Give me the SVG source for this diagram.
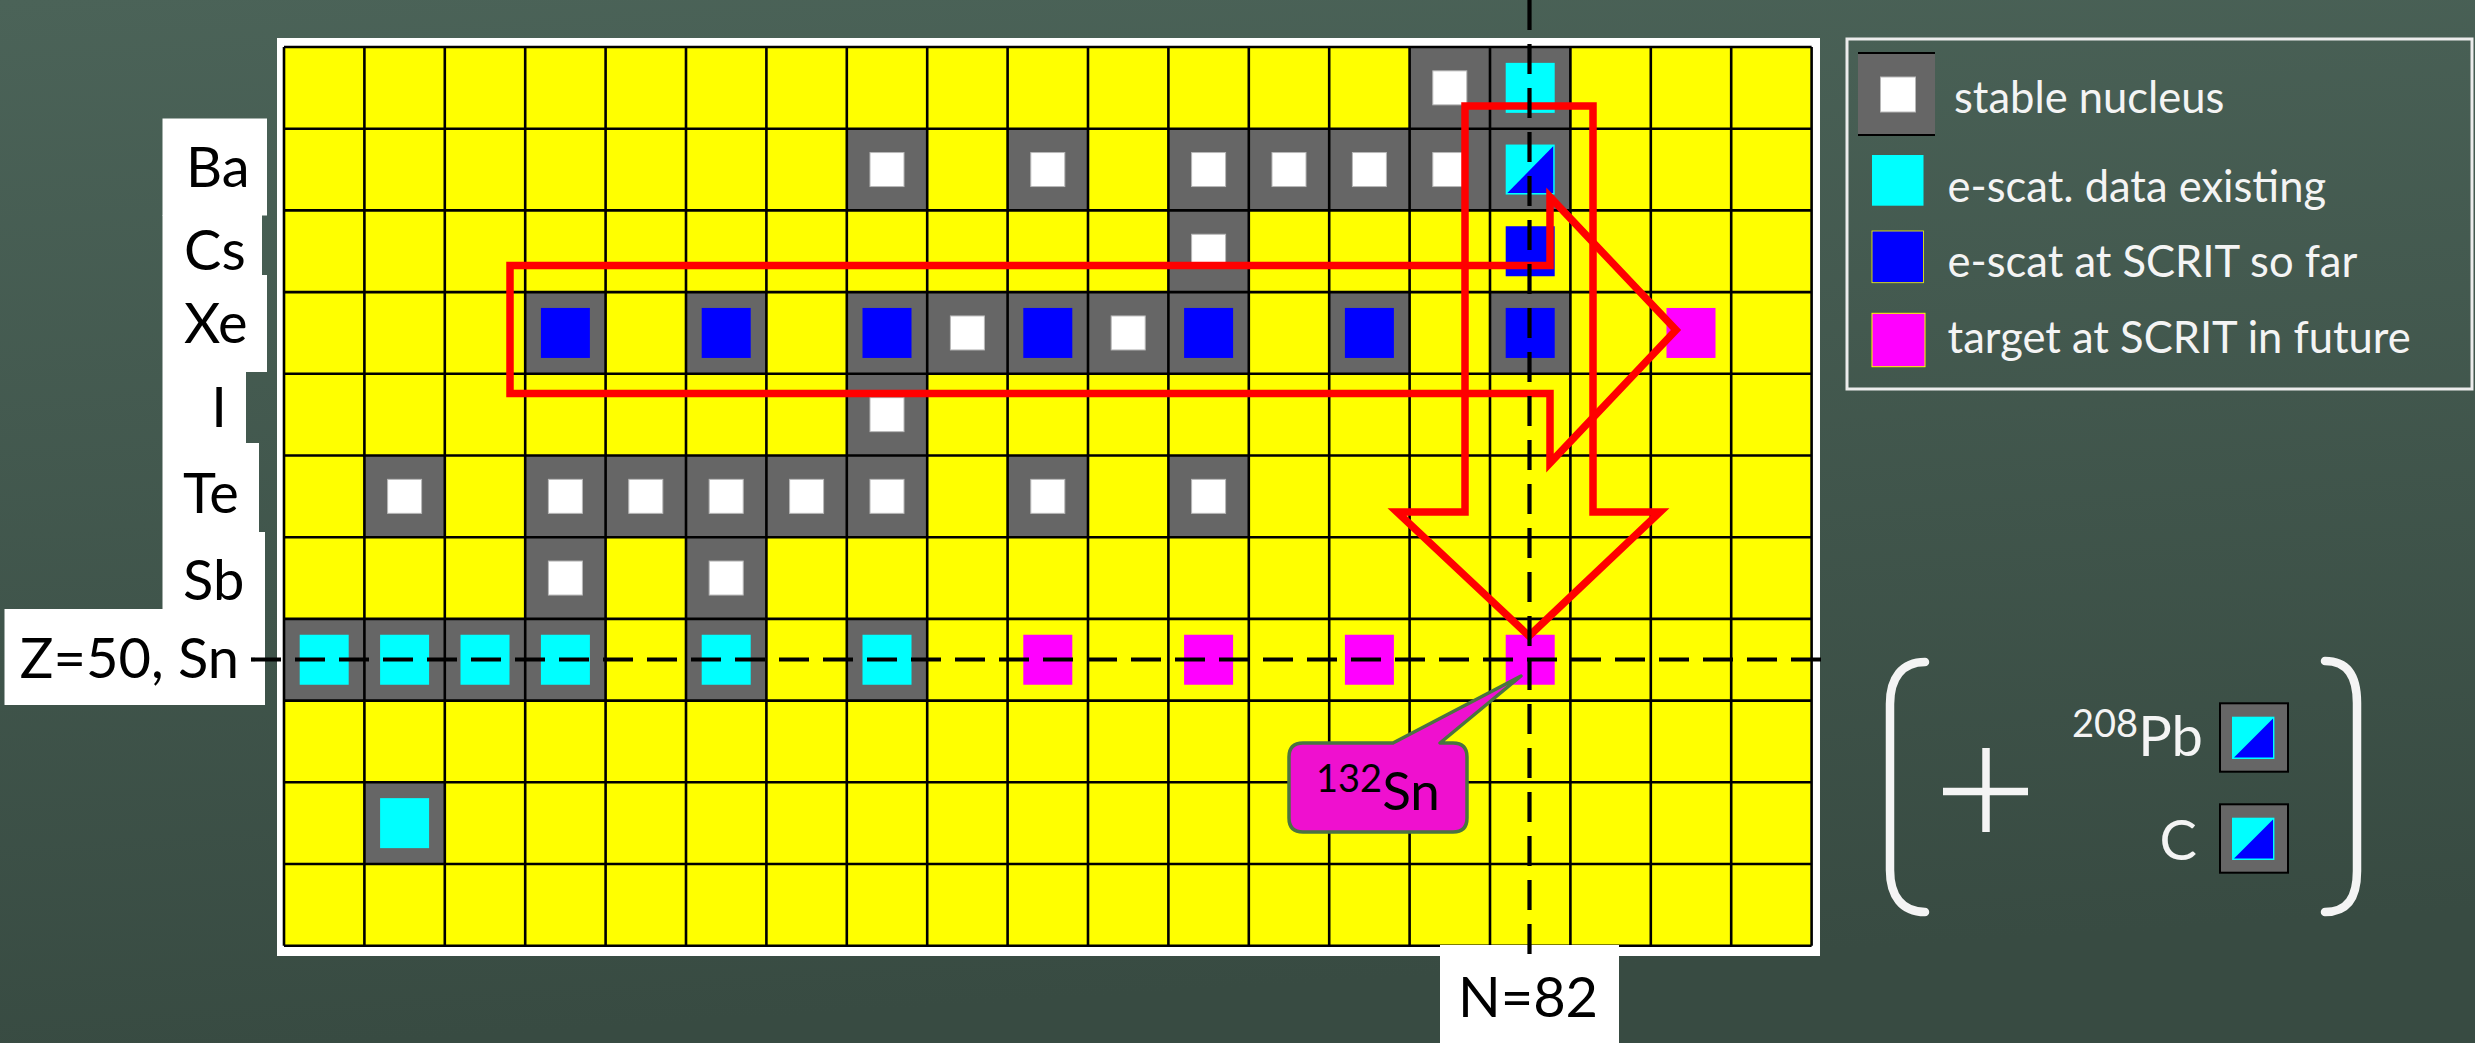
<svg xmlns="http://www.w3.org/2000/svg" xmlns:xlink="http://www.w3.org/1999/xlink" width="2475" height="1043" viewBox="0 0 2475 1043">
<defs>
<linearGradient id="bg" x1="0" y1="0" x2="0.15" y2="1">
<stop offset="0" stop-color="#4b6358"/>
<stop offset="1" stop-color="#384b42"/>
</linearGradient>
<style>
.gray{fill:#666666}
.wsq{fill:#ffffff;stroke:#b8b8b8;stroke-width:1}
.cy{fill:#00ffff}
.bl{fill:#0000ff}
.mg{fill:#ff00ff}
.grid{fill:none;stroke:#000;stroke-width:2.6}
.red{fill:none;stroke:#ff0000;stroke-width:7.5;stroke-linejoin:miter;stroke-miterlimit:10}
.dash{fill:none;stroke:#000;stroke-width:4.2;stroke-dasharray:30 14}
.lbl{font-family:Lato,"Liberation Sans",sans-serif;font-size:56px;fill:#000}
.leg{font-family:Lato,"Liberation Sans",sans-serif;font-size:43.5px;fill:#f4f4f4}
.wt{font-family:Lato,"Liberation Sans",sans-serif;fill:#f4f4f4}
.paren{fill:none;stroke:#f4f4f4;stroke-width:8.5;stroke-linecap:round}
</style>
<g id="stable"><rect class="gray" x="0" y="0" width="80.4" height="81.7"/><rect class="wsq" x="23.2" y="23.85" width="34" height="34"/></g>
<g id="cyanG"><rect class="gray" x="0" y="0" width="80.4" height="81.7"/><rect class="cy" x="15.7" y="15.85" width="49" height="50"/></g>
<g id="blueG"><rect class="gray" x="0" y="0" width="80.4" height="81.7"/><rect class="bl" x="15.7" y="15.85" width="49" height="50"/></g>
<g id="blue"><rect class="bl" x="15.7" y="15.85" width="49" height="50"/></g>
<g id="mag"><rect class="mg" x="15.7" y="15.85" width="49" height="50"/></g>
<g id="halfG"><rect class="gray" x="0" y="0" width="80.4" height="81.7"/><rect class="cy" x="15.7" y="15.85" width="49" height="50"/><polygon class="bl" points="63.2,17.5 63.2,64.3 17.3,64.3"/></g>
</defs>

<rect id="background" x="0" y="0" width="2475" height="1043" fill="url(#bg)"/>

<g id="chart">
<rect x="277" y="38" width="1543" height="918" fill="#ffffff"/>
<rect x="284" y="47" width="1527.6" height="898.7" fill="#ffff00"/>
<g id="cells">
<use id="cell-r0-c14" href="#stable" x="1409.6" y="47"/>
<use id="cell-r0-c15" href="#cyanG" x="1490" y="47"/>
<use id="cell-r1-c7" href="#stable" x="846.8" y="128.7"/>
<use id="cell-r1-c9" href="#stable" x="1007.6" y="128.7"/>
<use id="cell-r1-c11" href="#stable" x="1168.4" y="128.7"/>
<use id="cell-r1-c12" href="#stable" x="1248.8" y="128.7"/>
<use id="cell-r1-c13" href="#stable" x="1329.2" y="128.7"/>
<use id="cell-r1-c14" href="#stable" x="1409.6" y="128.7"/>
<use id="cell-r1-c15" href="#halfG" x="1490" y="128.7"/>
<use id="cell-r2-c11" href="#stable" x="1168.4" y="210.4"/>
<use id="cell-r2-c15" href="#blue" x="1490" y="210.4"/>
<use id="cell-r3-c3" href="#blueG" x="525.2" y="292.1"/>
<use id="cell-r3-c5" href="#blueG" x="686" y="292.1"/>
<use id="cell-r3-c7" href="#blueG" x="846.8" y="292.1"/>
<use id="cell-r3-c8" href="#stable" x="927.2" y="292.1"/>
<use id="cell-r3-c9" href="#blueG" x="1007.6" y="292.1"/>
<use id="cell-r3-c10" href="#stable" x="1088" y="292.1"/>
<use id="cell-r3-c11" href="#blueG" x="1168.4" y="292.1"/>
<use id="cell-r3-c13" href="#blueG" x="1329.2" y="292.1"/>
<use id="cell-r3-c15" href="#blueG" x="1490" y="292.1"/>
<use id="cell-r3-c17" href="#mag" x="1650.8" y="292.1"/>
<use id="cell-r4-c7" href="#stable" x="846.8" y="373.8"/>
<use id="cell-r5-c1" href="#stable" x="364.4" y="455.5"/>
<use id="cell-r5-c3" href="#stable" x="525.2" y="455.5"/>
<use id="cell-r5-c4" href="#stable" x="605.6" y="455.5"/>
<use id="cell-r5-c5" href="#stable" x="686" y="455.5"/>
<use id="cell-r5-c6" href="#stable" x="766.4" y="455.5"/>
<use id="cell-r5-c7" href="#stable" x="846.8" y="455.5"/>
<use id="cell-r5-c9" href="#stable" x="1007.6" y="455.5"/>
<use id="cell-r5-c11" href="#stable" x="1168.4" y="455.5"/>
<use id="cell-r6-c3" href="#stable" x="525.2" y="537.2"/>
<use id="cell-r6-c5" href="#stable" x="686" y="537.2"/>
<use id="cell-r7-c0" href="#cyanG" x="284" y="618.9"/>
<use id="cell-r7-c1" href="#cyanG" x="364.4" y="618.9"/>
<use id="cell-r7-c2" href="#cyanG" x="444.8" y="618.9"/>
<use id="cell-r7-c3" href="#cyanG" x="525.2" y="618.9"/>
<use id="cell-r7-c5" href="#cyanG" x="686" y="618.9"/>
<use id="cell-r7-c7" href="#cyanG" x="846.8" y="618.9"/>
<use id="cell-r7-c9" href="#mag" x="1007.6" y="618.9"/>
<use id="cell-r7-c11" href="#mag" x="1168.4" y="618.9"/>
<use id="cell-r7-c13" href="#mag" x="1329.2" y="618.9"/>
<use id="cell-r7-c15" href="#mag" x="1490" y="618.9"/>
<use id="cell-r9-c1" href="#cyanG" x="364.4" y="782.3"/>
</g>
<path id="gridlines" class="grid" d="M284 47V945.7M364.4 47V945.7M444.8 47V945.7M525.2 47V945.7M605.6 47V945.7M686 47V945.7M766.4 47V945.7M846.8 47V945.7M927.2 47V945.7M1007.6 47V945.7M1088 47V945.7M1168.4 47V945.7M1248.8 47V945.7M1329.2 47V945.7M1409.6 47V945.7M1490 47V945.7M1570.4 47V945.7M1650.8 47V945.7M1731.2 47V945.7M1811.6 47V945.7M284 47H1811.6M284 128.7H1811.6M284 210.4H1811.6M284 292.1H1811.6M284 373.8H1811.6M284 455.5H1811.6M284 537.2H1811.6M284 618.9H1811.6M284 700.6H1811.6M284 782.3H1811.6M284 864H1811.6M284 945.7H1811.6"/>
</g>

<g id="labels">
<g id="label-Ba"><rect x="162.5" y="118.5" width="104.5" height="97" fill="#fff"/><text class="lbl" x="186" y="187.3">Ba</text></g>
<g id="label-Cs"><rect x="162.5" y="215" width="99.5" height="60" fill="#fff"/><text class="lbl" x="184" y="270">Cs</text></g>
<g id="label-Xe"><rect x="162.5" y="275" width="104.5" height="97" fill="#fff"/><text class="lbl" x="184" y="343.3">Xe</text></g>
<g id="label-I"><rect x="162.5" y="372" width="83.5" height="71" fill="#fff"/><text class="lbl" x="219" y="426.7" text-anchor="middle">I</text></g>
<g id="label-Te"><rect x="162.5" y="443" width="96.5" height="89" fill="#fff"/><text class="lbl" x="183" y="513.3">Te</text></g>
<g id="label-Sb"><rect x="162.5" y="532" width="102.5" height="77" fill="#fff"/><text class="lbl" x="183" y="600">Sb</text></g>
<g id="label-Sn"><rect x="4.5" y="609" width="260.5" height="96" fill="#fff"/><text class="lbl" x="239" y="677.7" text-anchor="end">Z=50, Sn</text></g>
<g id="label-N82"><rect x="1440" y="945" width="179" height="98" fill="#fff"/><text class="lbl" x="1528" y="1016.7" text-anchor="middle" font-size="58">N=82</text></g>
</g>

<g id="connectors">
<path id="arrow-right" class="red" d="M510 265.5H1550V197L1676 330L1550 463V393.5H510Z"/>
<path id="arrow-down" class="red" d="M1465 106H1593V512H1660L1529 636L1397 512H1465Z"/>
<path id="line-N82" class="dash" d="M1529.5 0V961"/>
<path id="line-Z50" class="dash" d="M251 659.5H1822"/>
</g>

<g id="callout-132Sn">
<path d="M1303 743H1393L1521 676L1440 743H1453Q1467 743 1467 757V818Q1467 832 1453 832H1303Q1289 832 1289 818V757Q1289 743 1303 743Z" fill="#ef10cf" stroke="#4a7440" stroke-width="3.5" stroke-linejoin="round"/>
<text font-family="Lato,'Liberation Sans',sans-serif" fill="#000" x="1316" y="810"><tspan font-size="38" dy="-18">132</tspan><tspan font-size="53" dy="18">Sn</tspan></text>
</g>

<g id="legend">
<rect x="1847" y="39" width="625" height="350" fill="none" stroke="#ececec" stroke-width="3"/>
<g id="legend-stable">
<rect class="gray" x="1858" y="53" width="77" height="82"/>
<path d="M1858 53H1935M1858 135H1935" stroke="#000" stroke-width="2"/>
<rect class="wsq" x="1880.5" y="77" width="35" height="35"/>
<text class="leg" x="1954" y="112.7">stable nucleus</text>
</g>
<g id="legend-existing">
<rect class="cy" x="1872" y="155" width="51.5" height="50.7"/>
<text class="leg" x="1947.6" y="201.7">e-scat. data existing</text>
</g>
<g id="legend-scrit">
<rect class="bl" x="1872" y="231" width="51.5" height="51.7" stroke="#ffff00" stroke-width="0.8"/>
<text class="leg" x="1947.6" y="277">e-scat at SCRIT so far</text>
</g>
<g id="legend-future">
<rect class="mg" x="1872" y="313.3" width="53" height="53.4" stroke="#ffff00" stroke-width="1"/>
<text class="leg" x="1947.6" y="353.3">target at SCRIT in future</text>
</g>
</g>

<g id="extra-targets">
<path class="paren" d="M1925 662C1902 662 1890 678 1890 704V870C1890 896 1902 912 1925 912"/>
<path class="paren" d="M2325 661C2348 661 2357 677 2357 703V871C2357 897 2348 912 2325 912"/>
<path d="M1943 791.5H2028M1986 748V832" stroke="#f4f4f4" stroke-width="7.5" fill="none"/>
<g id="target-Pb208">
<text class="wt" x="2072" y="756"><tspan font-size="38" dy="-19.3">208</tspan><tspan font-size="56" dy="19.3">Pb</tspan></text>
<rect class="gray" x="2220" y="703.3" width="68" height="68.4" stroke="#000" stroke-width="2"/>
<rect class="cy" x="2232" y="716.7" width="42.4" height="42.3"/>
<polygon class="bl" points="2273,718.5 2273,757.5 2234,757.5"/>
</g>
<g id="target-C">
<text class="wt" x="2159.5" y="860" font-size="56">C</text>
<rect class="gray" x="2220" y="804.3" width="68" height="68.4" stroke="#000" stroke-width="2"/>
<rect class="cy" x="2232" y="817.7" width="42.4" height="42.3"/>
<polygon class="bl" points="2273,819.5 2273,858.5 2234,858.5"/>
</g>
</g>
</svg>
